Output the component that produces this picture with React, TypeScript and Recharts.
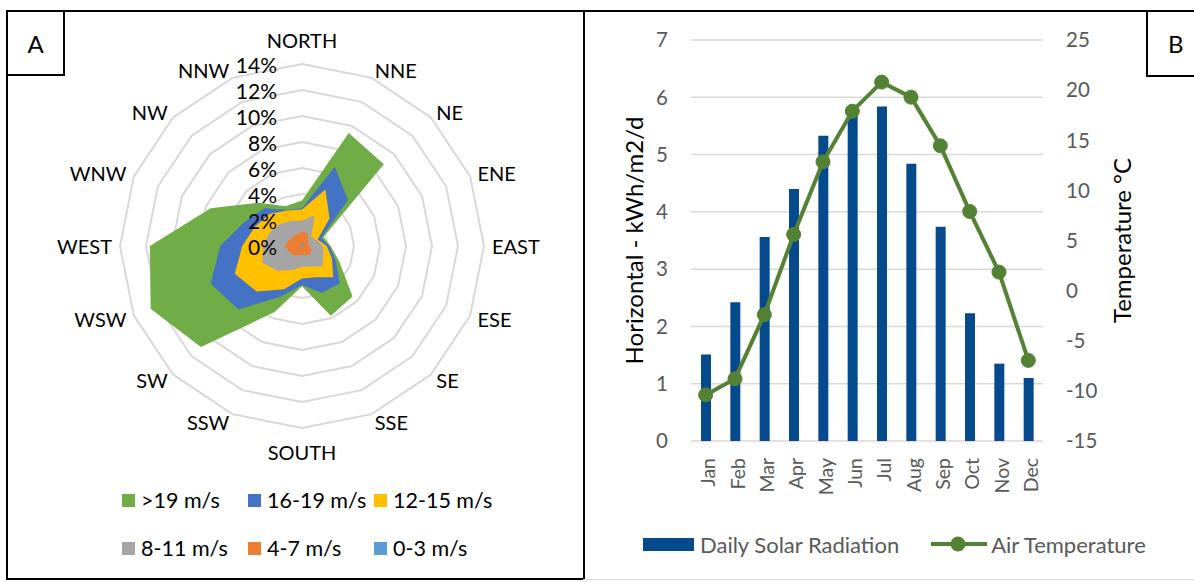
import React from "react"
import {
	RadarChart,
	Radar,
	PolarGrid,
	PolarAngleAxis,
	PolarRadiusAxis,
	Legend,
	ComposedChart,
	Bar,
	Line,
	XAxis,
	YAxis,
	CartesianGrid
} from "recharts"

const FONT = "Lato, 'Open Sans', sans-serif"

// wind rose: share of hours (%) per direction, cumulative per speed band
const DIRECTIONS = ["NORTH", "NNE", "NE", "ENE", "EAST", "ESE", "SE", "SSE", "SOUTH", "SSW", "SW", "WSW", "WEST", "WNW", "NW", "NNW"]
const OVER_19 = [3.5, 9.4, 8.9, 1.8, 2.2, 3.1, 5.5, 5.8, 3.1, 5.5, 11.0, 12.6, 11.7, 7.6, 4.7, 3.3]
const S16_19 = [2.9, 6.6, 5.0, 1.6, 2.1, 2.8, 4.1, 3.9, 3.0, 4.2, 6.9, 7.6, 6.3, 4.8, 4.1, 3.0]
const S12_15 = [2.8, 4.7, 3.0, 1.3, 1.9, 2.5, 3.4, 2.6, 2.5, 3.6, 4.95, 5.6, 4.6, 3.9, 3.5, 2.95]
const S8_11 = [1.95, 2.56, 1.0, 1.2, 1.6, 1.8, 2.2, 1.7, 1.6, 2.0, 2.7, 3.3, 3.0, 2.7, 2.4, 2.1]
const S4_7 = [1.1, 1.1, 0.7, 0.5, 0.6, 0.8, 0.9, 0.8, 0.7, 0.8, 1.0, 1.1, 1.3, 1.1, 1.0, 1.0]
const S0_3 = [0.1, 0.2, 0.3, 0.2, 0.1, 0.1, 0.1, 0.1, 0.1, 0.1, 0.1, 0.1, 0.1, 0.1, 0.1, 0.1]
const RADIAL_TICKS = [0, 2, 4, 6, 8, 10, 12, 14]

const BANDS = [
	{ key: "over19", name: ">19 m/s", color: "#70AD47", values: OVER_19 },
	{ key: "s16", name: "16-19 m/s", color: "#4472C4", values: S16_19 },
	{ key: "s12", name: "12-15 m/s", color: "#FFC000", values: S12_15 },
	{ key: "s8", name: "8-11 m/s", color: "#A5A5A5", values: S8_11 },
	{ key: "s4", name: "4-7 m/s", color: "#ED7D31", values: S4_7 },
	{ key: "s0", name: "0-3 m/s", color: "#5B9BD5", values: S0_3 }
]

const windData = DIRECTIONS.map((dir, i) => {
	const row: any = { dir }
	BANDS.forEach((b) => (row[b.key] = b.values[i]))
	return row
})

// monthly climate
const MONTHS = ["Jan", "Feb", "Mar", "Apr", "May", "Jun", "Jul", "Aug", "Sep", "Oct", "Nov", "Dec"]
const SOLAR = [1.51, 2.42, 3.56, 4.4, 5.33, 5.75, 5.84, 4.84, 3.74, 2.23, 1.35, 1.1]
const TEMP = [-10.4, -8.8, -2.4, 5.6, 12.85, 17.9, 20.8, 19.3, 14.45, 7.9, 1.85, -6.96]
const SOLAR_TICKS = [0, 1, 2, 3, 4, 5, 6, 7]
const TEMP_TICKS = [-15, -10, -5, 0, 5, 10, 15, 20, 25]

const climateData = MONTHS.map((month, i) => ({ month, solar: SOLAR[i], temp: TEMP[i] }))

const BAR_COLOR = "#064a8e"
const LINE_COLOR = "#548235"

function DirTick(props: any) {
	const { x, y, payload, textAnchor } = props
	const up = Math.sin((payload.coordinate * Math.PI) / 180) > 0
	const vertical = textAnchor === "middle"
	const ty = vertical ? y + (up ? -16 : 16) : y
	return (
		<text x={x} y={ty} textAnchor={textAnchor} dominantBaseline="central" fontSize={20} fontFamily={FONT} fill="#000">
			{payload.value}
		</text>
	)
}

function PctTick(props: any) {
	const { x, y, payload } = props
	return (
		<text x={x - 25} y={y} textAnchor="end" dominantBaseline="central" fontSize={21} fontFamily={FONT} fill="#000">
			{payload.value + "%"}
		</text>
	)
}

function WindLegend() {
	return (
		<div style={{ display: "grid", gridTemplateColumns: "126px 126px 126px", rowGap: 20, fontFamily: FONT, fontSize: 21.5, color: "#000" }}>
			{BANDS.map((b) => (
				<div key={b.key} style={{ display: "flex", alignItems: "center", height: 28, whiteSpace: "nowrap" }}>
					<span style={{ width: 13, height: 13, background: b.color, marginRight: 6, display: "inline-block", flexShrink: 0 }} />
					{b.name}
				</div>
			))}
		</div>
	)
}

function MonthTick(props: any) {
	const { x, y, payload } = props
	const tx = x + 2
	const ty = y + 17
	return (
		<text x={tx} y={ty} transform={`rotate(-90, ${tx}, ${ty})`} textAnchor="end" dominantBaseline="central" fontSize={19.5} fontFamily={FONT} fill="#595959">
			{payload.value}
		</text>
	)
}

function axisTitle(text: string, dx: number) {
	return (props: any) => {
		const vb = props.viewBox || {}
		const cx = vb.x + dx
		const cy = vb.y + vb.height / 2
		return (
			<text x={cx} y={cy} transform={`rotate(-90, ${cx}, ${cy})`} textAnchor="middle" dominantBaseline="central" fontSize={24} fontFamily={FONT} fill="#000">
				{text}
			</text>
		)
	}
}

function ClimateLegend() {
	return (
		<div style={{ display: "flex", alignItems: "center", height: 28, fontFamily: FONT, fontSize: 22, color: "#595959", whiteSpace: "nowrap" }}>
			<svg width={51} height={13}>
				<rect x={0} y={0} width={51} height={13} fill={BAR_COLOR} />
			</svg>
			<span style={{ marginLeft: 6 }}>Daily Solar Radiation</span>
			<svg width={56} height={16} style={{ marginLeft: 32 }}>
				<line x1={0} y1={8} x2={56} y2={8} stroke={LINE_COLOR} strokeWidth={4} />
				<circle cx={27} cy={8} r={7.5} fill={LINE_COLOR} />
			</svg>
			<span style={{ marginLeft: 4 }}>Air Temperature</span>
		</div>
	)
}

const tickStyle = { fill: "#595959", fontSize: 20.5, fontFamily: FONT }

export default function App() {
	return (
		<div style={{ position: "absolute", left: 0, top: 0, width: 1194, height: 582, overflow: "hidden", background: "#fff" }}>
			{/* panel frames */}
			<div style={{ position: "absolute", left: 6, top: 10, width: 579, height: 570, border: "2px solid #000", boxSizing: "border-box" }} />
			<div style={{ position: "absolute", left: 583, top: 10, width: 640, height: 570, borderTop: "2px solid #000", borderBottom: "1px solid #d9d9d9", boxSizing: "border-box" }} />

			{/* A: wind rose */}
			<div style={{ position: "absolute", left: 0, top: 0 }}>
				<RadarChart width={584} height={582} data={windData} cx={302} cy={246} outerRadius={182} margin={{ top: 0, right: 0, bottom: 0, left: 0 }}>
					<PolarGrid gridType="polygon" radialLines={false} stroke="#d9d9d9" strokeWidth={2} />
					<PolarAngleAxis dataKey="dir" axisLine={false} tickLine={false} tickSize={8} tick={<DirTick />} />
					{BANDS.map((b) => (
						<Radar key={b.key} dataKey={b.key} name={b.name} fill={b.color} fillOpacity={1} stroke="none" dot={false} isAnimationActive={false} />
					))}
					<PolarRadiusAxis angle={90} type="number" domain={[0, 14]} ticks={RADIAL_TICKS} axisLine={false} tickLine={false} tick={<PctTick />} />
					<Legend layout="horizontal" verticalAlign="middle" align="center" content={() => <WindLegend />} wrapperStyle={{ left: 122, top: 486, width: 420, height: 76 }} />
				</RadarChart>
			</div>

			{/* B: solar radiation & temperature */}
			<div style={{ position: "absolute", left: 584, top: 0 }}>
				<ComposedChart width={610} height={582} data={climateData} margin={{ top: 40, right: 0, bottom: 0, left: 0 }}>
					<CartesianGrid yAxisId="left" vertical={false} stroke="#d9d9d9" strokeWidth={1.5} />
					<XAxis dataKey="month" height={141} axisLine={false} tickLine={false} tickSize={0} tickMargin={0} interval={0} tick={<MonthTick />} />
					<YAxis yAxisId="left" orientation="left" width={107} domain={[0, 7]} ticks={SOLAR_TICKS} axisLine={false} tickLine={false} tickSize={0} tickMargin={23} tick={tickStyle} label={axisTitle("Horizontal - kWh/m2/d", 49)} />
					<YAxis yAxisId="right" orientation="right" width={151} domain={[-15, 25]} ticks={TEMP_TICKS} axisLine={false} tickLine={false} tickSize={0} tickMargin={23} tick={tickStyle} label={axisTitle("Temperature °C", 78)} />
					<Bar yAxisId="left" dataKey="solar" name="Daily Solar Radiation" fill={BAR_COLOR} barSize={10} isAnimationActive={false} />
					<Line yAxisId="right" dataKey="temp" name="Air Temperature" stroke={LINE_COLOR} strokeWidth={4} dot={{ r: 7, fill: LINE_COLOR, stroke: LINE_COLOR, strokeWidth: 1 }} isAnimationActive={false} />
					<Legend layout="horizontal" verticalAlign="middle" align="center" content={() => <ClimateLegend />} wrapperStyle={{ left: 59, top: 530, width: 580, height: 28 }} />
				</ComposedChart>
			</div>

			{/* panel letters */}
			<div style={{ position: "absolute", left: 6, top: 10, width: 59, height: 66, border: "2px solid #000", boxSizing: "border-box", background: "#fff", display: "flex", alignItems: "center", justifyContent: "center", fontFamily: FONT, fontSize: 24 }}>A</div>
			<div style={{ position: "absolute", left: 1146, top: 10, width: 70, height: 67, border: "2px solid #000", boxSizing: "border-box", background: "#fff", display: "flex", alignItems: "center", paddingLeft: 20, fontFamily: FONT, fontSize: 24 }}>B</div>
		</div>
	)
}
